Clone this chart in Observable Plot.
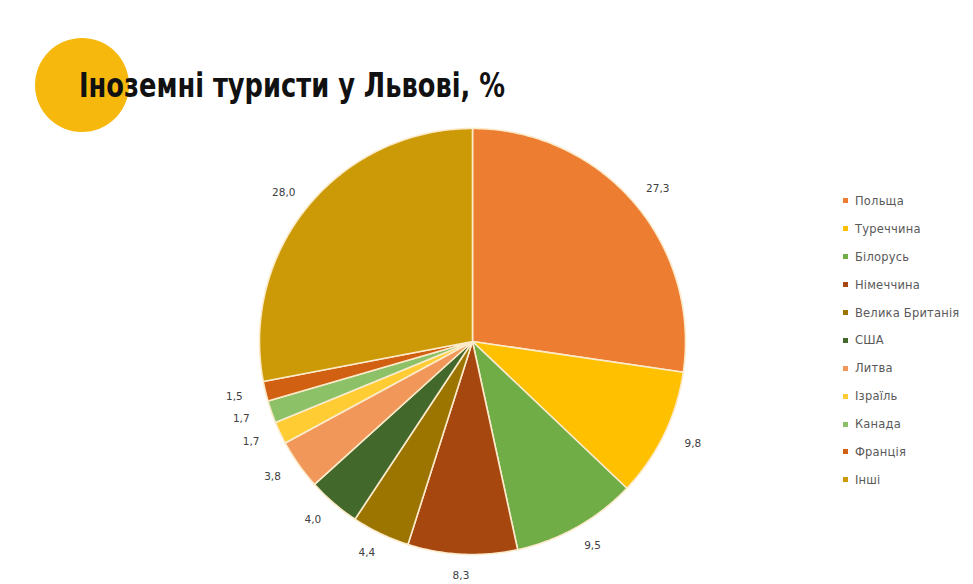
<!DOCTYPE html>
<html>
<head>
<meta charset="utf-8">
<script src="https://cdn.jsdelivr.net/npm/d3@7"></script>
<script src="https://cdn.jsdelivr.net/npm/@observablehq/plot@0.6"></script>
<style>
  html, body { margin: 0; padding: 0; background: #fff; }
  #wrap { position: relative; width: 973px; height: 584px; overflow: hidden; }
  #wrap svg { position: absolute; left: 0; top: 0; }
  #circle { position: absolute; left: 35px; top: 38px; width: 94px; height: 94px; border-radius: 50%; background: #F6B80C; }
  #title { position: absolute; left: 79px; top: 66px; font-family: "Liberation Sans Narrow", "DejaVu Sans Condensed", "Liberation Sans", sans-serif; font-weight: bold; font-size: 33px; color: #111; white-space: nowrap; transform-origin: 0 0; }
  #legend { position: absolute; left: 843px; top: 187px; font-family: "DejaVu Sans", sans-serif; font-size: 11.5px; color: #595959; letter-spacing: 0.2px; }
  .item { height: 27.9px; display: flex; align-items: center; white-space: nowrap; }
  .sw { width: 5px; height: 5px; margin-right: 7px; flex: none; }
</style>
</head>
<body>
<div id="wrap">
  <div id="circle"></div>
</div>
<script>
const names = ["Польща", "Туреччина", "Білорусь", "Німеччина", "Велика Британія", "США", "Литва", "Ізраїль", "Канада", "Франція", "Інші"];
const values = [27.3, 9.8, 9.5, 8.3, 4.4, 4.0, 3.8, 1.7, 1.7, 1.5, 28.0];
const colors = ["#ED7D31", "#FFC000", "#70AD47", "#A5470F", "#9C7400", "#43682B", "#F1975A", "#FFCD33", "#8CC168", "#D26012", "#CC9A06"];
const titleText = "Іноземні туристи у Львові, %";

const W = 973, H = 584;
const cx = 472, cy = 341, R = 213;     // pixel layout of the pie
const labelRx = 1.15, labelRy = 1.1;   // label radii in pie units

const data = names.map((name, i) => ({name, value: values[i]}));
const arcs = d3.pie().sort(null).value(d => d.value)(data);

// polygon vertices of each slice in pie units (radius 1, y up)
const pts = [];
for (const a of arcs) {
  const n = Math.max(2, Math.ceil((a.endAngle - a.startAngle) / 0.01));
  pts.push({name: a.data.name, x: 0, y: 0});
  for (let k = 0; k <= n; k++) {
    const t = a.startAngle + (a.endAngle - a.startAngle) * k / n;
    pts.push({name: a.data.name, x: Math.sin(t), y: Math.cos(t)});
  }
  pts.push({name: a.data.name, x: 0, y: 0});
}
const labels = arcs.map(a => {
  const m = (a.startAngle + a.endAngle) / 2;
  return {name: a.data.name, x: Math.sin(m) * labelRx, y: Math.cos(m) * labelRy,
          text: a.data.value.toFixed(1).replace(".", ",")};
});

const chart = Plot.plot({
  width: W, height: H,
  margin: 0,
  x: {domain: [-cx / R, (W - cx) / R], axis: null},
  y: {domain: [-(H - cy) / R, cy / R], axis: null},
  color: {type: "ordinal", domain: names, range: colors},
  marks: [
    Plot.line(pts, {x: "x", y: "y", z: "name", fill: "name", stroke: "#FCEBCB", strokeWidth: 1.6, strokeLinejoin: "round", curve: "linear"}),
    Plot.text(labels, {x: "x", y: "y", text: "text", fill: "#404040", fontSize: 10.5, fontFamily: "DejaVu Sans, sans-serif", textAnchor: "middle", lineAnchor: "middle"})
  ]
});

const wrap = document.getElementById("wrap");
wrap.appendChild(chart);

const title = document.createElement("div");
title.id = "title";
title.textContent = titleText;
wrap.appendChild(title);
const tw = title.getBoundingClientRect().width;
if (tw > 0) title.style.transform = `scaleX(${426 / tw})`;

const legend = document.createElement("div");
legend.id = "legend";
names.forEach((n, i) => {
  const it = document.createElement("div");
  it.className = "item";
  const sw = document.createElement("span");
  sw.className = "sw";
  sw.style.background = colors[i];
  const tx = document.createElement("span");
  tx.textContent = n;
  it.appendChild(sw); it.appendChild(tx);
  legend.appendChild(it);
});
wrap.appendChild(legend);
</script>
</body>
</html>
